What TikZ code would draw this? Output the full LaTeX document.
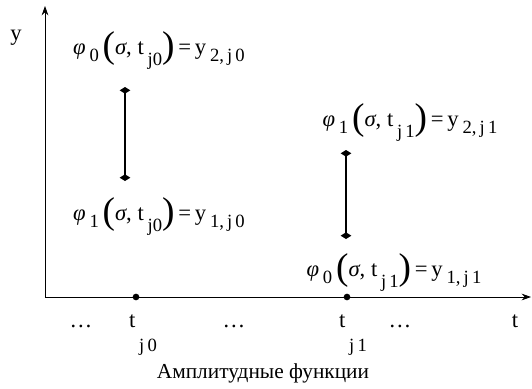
\documentclass[tikz,border=0pt]{standalone}
\usepackage{fontspec}
\setmainfont{Liberation Serif}
\usetikzlibrary{arrows.meta, positioning}
% lowered index, as the scan sets them
\newcommand{\lo}[2][0.7ex]{\raisebox{-#1}{\fontsize{14}{14}\selectfont #2}}
\newcommand{\bigp}[1]{\raisebox{-0.3ex}{\fontsize{28}{28}\selectfont #1}}
\newcommand{\amp}[4]{\textit{φ}\,\lo{#1}\,\bigp{(}\textit{σ}, t\,\lo[1.1ex]{#2}\bigp{)}\,=\,y\,\lo{#3,\,#4}}

\begin{document}
\begin{tikzpicture}[
    x=0.75pt, y=-0.75pt,
    font=\fontsize{17}{19}\selectfont,
    axis/.style={-{Stealth[length=7pt, width=5pt]}, line width=0.6pt},
    bar/.style={{Diamond[length=5pt, width=8pt]}-{Diamond[length=5pt, width=8pt]}, line width=1.4pt},
    dot/.style={circle, fill, inner sep=0pt, minimum size=5pt},
    lab/.style={inner sep=1pt, anchor=base}
]
\useasboundingbox (0,0) rectangle (532,389);

% axes
\coordinate (O) at (45,297);
\coordinate (ytop) at (45,6);
\coordinate (xend) at (531,297);
\draw[axis] (O) -- (ytop);
\draw[axis] (O) -- (xend);
\node[lab] (ylab) at (16,40) {y};
\node[lab] (tlab) at (515,327) {t};

% points on the t axis
\node[dot] (tj0) at (136,297) {};
\node[dot] (tj1) at (347,297) {};
\node[lab] (tj0lab) at (143,327) {t\,\lo[1.1em]{j\,0}};
\node[lab] (tj1lab) at (353,327) {t\,\lo[1.1em]{j\,1}};
\node[lab] (dots0) at (81,327) {\dots};
\node[lab] (dots1) at (234,327) {\dots};
\node[lab] (dots2) at (400,327) {\dots};

% amplitude values at t_j0
\node[lab] (amp0top) at (159,54) {\amp{0}{j0}{2}{j\,0}};
\node[lab] (amp0bot) at (159,220) {\amp{1}{j0}{1}{j\,0}};
\coordinate (b0top) at (125,87);
\coordinate (b0bot) at (125,181);
\draw[bar] (b0top) -- (b0bot);

% amplitude values at t_j1
\node[lab] (amp1top) at (410,126) {\amp{1}{j\,1}{2}{j\,1}};
\node[lab] (amp1bot) at (394,276) {\amp{0}{j\,1}{1}{j\,1}};
\coordinate (b1top) at (346,150);
\coordinate (b1bot) at (346,239);
\draw[bar] (b1top) -- (b1bot);

\node[lab, font=\fontsize{16}{18}\selectfont] (caption) at (263,378) {Амплитудные функции};
\end{tikzpicture}
\end{document}
